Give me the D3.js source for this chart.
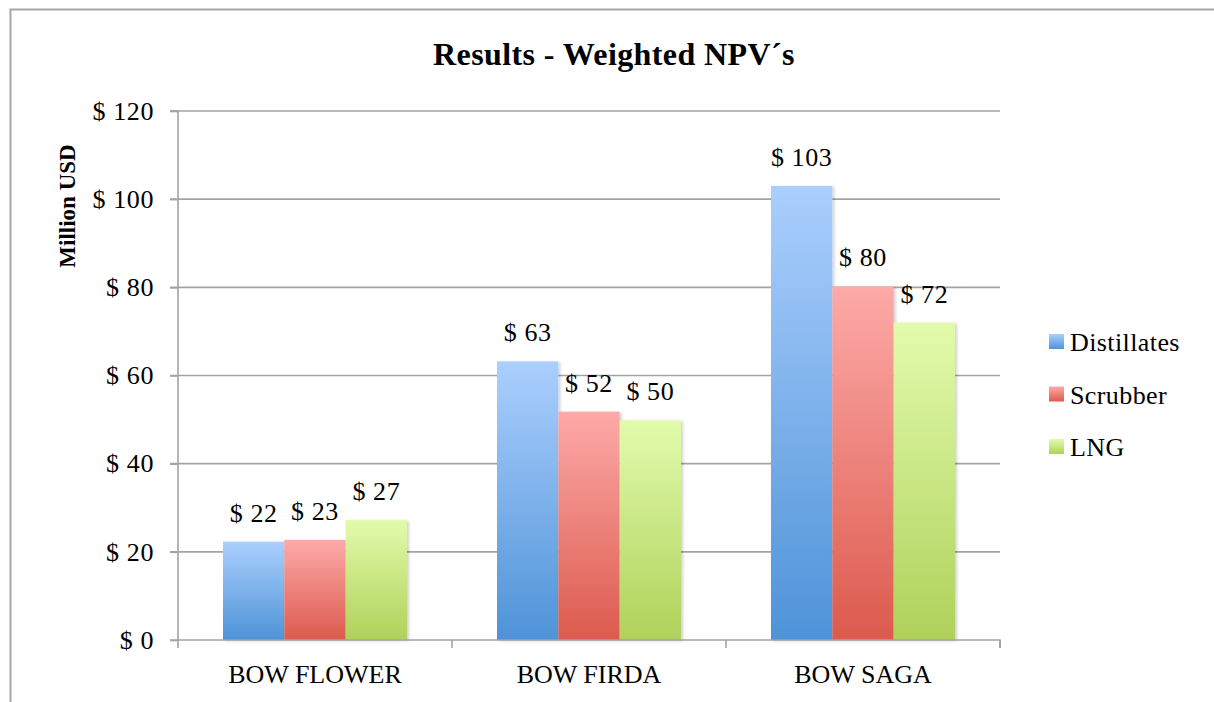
<!DOCTYPE html>
<html><head><meta charset="utf-8">
<script src="https://cdn.jsdelivr.net/npm/d3@7"></script>
<style>
body{margin:0;background:#fff;}
text{font-family:"Liberation Serif","DejaVu Serif",serif;fill:#000;}
</style></head>
<body>
<svg id="chart" width="1214" height="702"></svg>
<script>
const categories = ["BOW FLOWER", "BOW FIRDA", "BOW SAGA"];
const seriesNames = ["Distillates", "Scrubber", "LNG"];
const distillates = [22.3, 63.2, 103];
const scrubber = [22.7, 51.8, 80.2];
const lng = [27.2, 49.8, 72];
const yTicks = [0, 20, 40, 60, 80, 100, 120];
const chartTitle = "Results - Weighted NPV\u00B4s";
const yTitle = "Million USD";

const seriesValues = [distillates, scrubber, lng];
const colors = [
  {top:"#abcffd", bottom:"#4e93d8"},
  {top:"#fdaaa8", bottom:"#dc5a4d"},
  {top:"#e2fbac", bottom:"#afd15a"}
];

const svg = d3.select("#chart");
const defs = svg.append("defs");
colors.forEach((c,i)=>{
  const g = defs.append("linearGradient").attr("id","g"+i)
    .attr("x1",0).attr("y1",0).attr("x2",0).attr("y2",1);
  g.append("stop").attr("offset","0%").attr("stop-color",c.top);
  g.append("stop").attr("offset","100%").attr("stop-color",c.bottom);
});
const f = defs.append("filter").attr("id","sh").attr("x","-10%").attr("y","-10%").attr("width","130%").attr("height","130%");
f.append("feDropShadow").attr("dx",2).attr("dy",1).attr("stdDeviation",1.5).attr("flood-color","#000").attr("flood-opacity",0.18);

// outer border
svg.append("path").attr("d","M10.5,702 V9.5 H1214")
  .attr("fill","none").attr("stroke","#a6a6a6").attr("stroke-width",2);

const pLeft = 178, pRight = 1000, pTop = 111, pBottom = 640;
const x0 = d3.scaleBand().domain(categories).range([pLeft,pRight]).paddingInner(0).paddingOuter(0);
const y = d3.scaleLinear().domain([0,120]).range([pBottom,pTop]);
const groupPad = 45;
const x1 = d3.scaleBand().domain(seriesNames)
  .range([groupPad, x0.bandwidth()-groupPad]).padding(0);

const fs = 26;

// gridlines
svg.append("g").selectAll("line").data(yTicks.filter(d=>d>0)).join("line")
  .attr("x1",pLeft-8).attr("x2",pRight).attr("y1",d=>y(d)).attr("y2",d=>y(d))
  .attr("stroke","#a3a3a3").attr("stroke-width",1.6);

// y axis
const yAxis = d3.axisLeft(y).tickValues(yTicks).tickSize(8).tickPadding(16)
  .tickFormat(d=>"$ "+d);
const ya = svg.append("g").attr("transform",`translate(${pLeft},0)`).call(yAxis);
ya.select(".domain").attr("stroke","#a3a3a3").attr("stroke-width",1.6).attr("d",`M-8,${pTop}H0V${pBottom}H-8`);
ya.selectAll(".tick line").attr("stroke","#a3a3a3").attr("stroke-width",1.6);
ya.selectAll(".tick text").attr("font-size",fs).attr("font-family","Liberation Serif").attr("fill","#000").attr("letter-spacing",0.6);

// bars
const groups = svg.append("g").selectAll("g").data(categories).join("g")
  .attr("transform",d=>`translate(${x0(d)},0)`);
groups.each(function(cat,ci){
  const g = d3.select(this);
  seriesNames.forEach((s,si)=>{
    const v = seriesValues[si][ci];
    g.append("rect").attr("x",x1(s)).attr("y",y(v))
      .attr("width",x1.bandwidth()).attr("height",y(0)-y(v))
      .attr("fill",`url(#g${si})`).attr("filter","url(#sh)");
  });
});
groups.each(function(cat,ci){
  const g = d3.select(this);
  seriesNames.forEach((s,si)=>{
    const v = seriesValues[si][ci];
    g.append("text").attr("x",x1(s)+x1.bandwidth()/2).attr("y",y(v)-20)
      .attr("text-anchor","middle").attr("font-size",fs).attr("letter-spacing",0.6)
      .text("$ "+Math.round(v));
  });
});

// x axis
const xAxis = d3.axisBottom(x0).tickSize(0).tickPadding(25);
const xa = svg.append("g").attr("transform",`translate(0,${pBottom})`).call(xAxis);
xa.select(".domain").attr("stroke","#a3a3a3").attr("stroke-width",1.6).attr("d",`M${pLeft},0H${pRight}V8`);
xa.selectAll(".tick text").attr("font-size",fs).attr("font-family","Liberation Serif").attr("fill","#000");
xa.selectAll(".sep").data(categories).join("line")
  .attr("x1",(d,i)=>pLeft+(i+1)*x0.bandwidth()).attr("x2",(d,i)=>pLeft+(i+1)*x0.bandwidth())
  .attr("y1",0).attr("y2",8).attr("stroke","#a3a3a3").attr("stroke-width",1.6);
xa.append("line").attr("x1",pLeft).attr("x2",pLeft).attr("y1",0).attr("y2",8)
  .attr("stroke","#a3a3a3").attr("stroke-width",1.6);

// title
svg.append("text").attr("x",614).attr("y",65).attr("text-anchor","middle")
  .attr("font-size",32).attr("font-weight","bold").attr("letter-spacing",0.4).text(chartTitle);
svg.append("text").attr("transform","translate(75,206) rotate(-90)")
  .attr("text-anchor","middle").attr("font-size",23).attr("font-weight","bold").text(yTitle);

// legend
const lg = svg.append("g").selectAll("g").data(seriesNames).join("g")
  .attr("transform",(d,i)=>`translate(1049,${342+i*52.5})`);
lg.append("rect").attr("x",0).attr("y",-8).attr("width",15).attr("height",15)
  .attr("fill",(d,i)=>`url(#g${i})`);
lg.append("text").attr("x",21).attr("y",9).attr("font-size",fs).attr("letter-spacing",0.4).text(d=>d);
</script>
</body></html>
